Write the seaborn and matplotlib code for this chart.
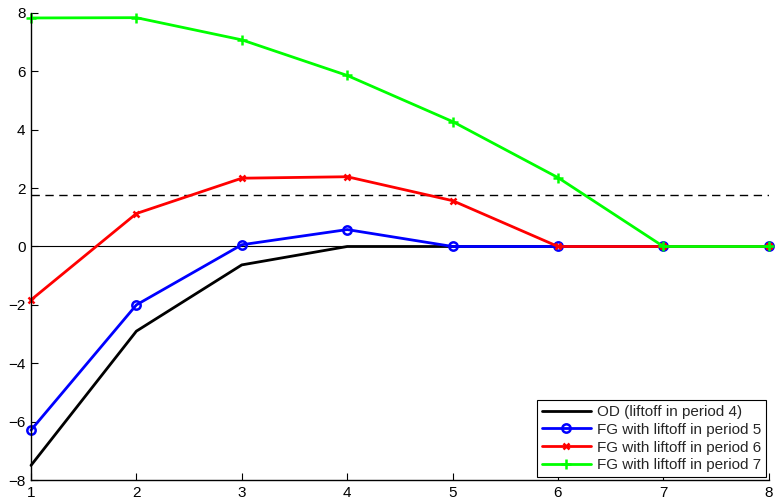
import matplotlib
matplotlib.use("Agg")
import matplotlib.pyplot as plt
import seaborn as sns
import pandas as pd

periods = [1, 2, 3, 4, 5, 6, 7, 8]
od = [-7.5, -2.9, -0.63, 0.0, 0.0, 0.0, 0.0, 0.0]
fg5 = [-6.29, -2.0, 0.06, 0.58, 0.0, 0.0, 0.0, 0.0]
fg6 = [-1.83, 1.13, 2.34, 2.39, 1.57, 0.0, 0.0, 0.0]
fg7 = [7.83, 7.84, 7.08, 5.86, 4.28, 2.36, 0.0, 0.0]
dashed_level = 1.75
labels = ["OD (liftoff in period 4)", "FG with liftoff in period 5",
          "FG with liftoff in period 6", "FG with liftoff in period 7"]

sns.set_style("white")
plt.rcParams['font.family'] = ['Liberation Sans', 'DejaVu Sans']

fig = plt.figure(figsize=(7.75, 5.0), dpi=100)
ax = fig.add_axes([0.04, 0.04, 0.952, 0.934])

ax.axhline(0, color="black", lw=0.8, zorder=1)
ax.axhline(dashed_level, color="black", lw=1.0, ls=(0, (6, 4)), zorder=1)

styles = [("black", None, 6), ("blue", "o", 6), ("red", "x", 5), ("#00ff00", "+", 7.5)]
for vals, lab, (c, m, ms) in zip([od, fg5, fg6, fg7], labels, styles):
    df = pd.DataFrame({"x": periods, "y": vals})
    sns.lineplot(data=df, x="x", y="y", ax=ax, color=c, lw=2, marker=m,
                 markersize=ms,
                 markeredgewidth=1.8,
                 markerfacecolor="none" if m == "o" else c,
                 markeredgecolor=c, label=lab, clip_on=False)

ax.set_xlim(1, 8)
ax.set_ylim(-8, 8)
ax.set_xticks(range(1, 9))
ax.set_yticks(range(-8, 9, 2))
ax.set_yticklabels([str(v).replace("-", "\u2212") for v in range(-8, 9, 2)])
ax.set_xlabel("")
ax.set_ylabel("")
for s in ["top", "right"]:
    ax.spines[s].set_visible(False)
for s in ["left", "bottom"]:
    ax.spines[s].set_color("black")
    ax.spines[s].set_linewidth(1.0)
ax.tick_params(direction="in", length=5, width=0.8, labelsize=11, colors="black",
               left=True, bottom=True, pad=4)

leg = ax.legend(loc="lower right", frameon=True, fancybox=False, fontsize=11,
                edgecolor="black", borderpad=0.3, labelspacing=0.25,
                handlelength=3.2, handletextpad=0.4, borderaxespad=0.2)
leg.get_frame().set_linewidth(0.8)
leg.get_frame().set_alpha(1)

fig.savefig("out.png", dpi=100)
